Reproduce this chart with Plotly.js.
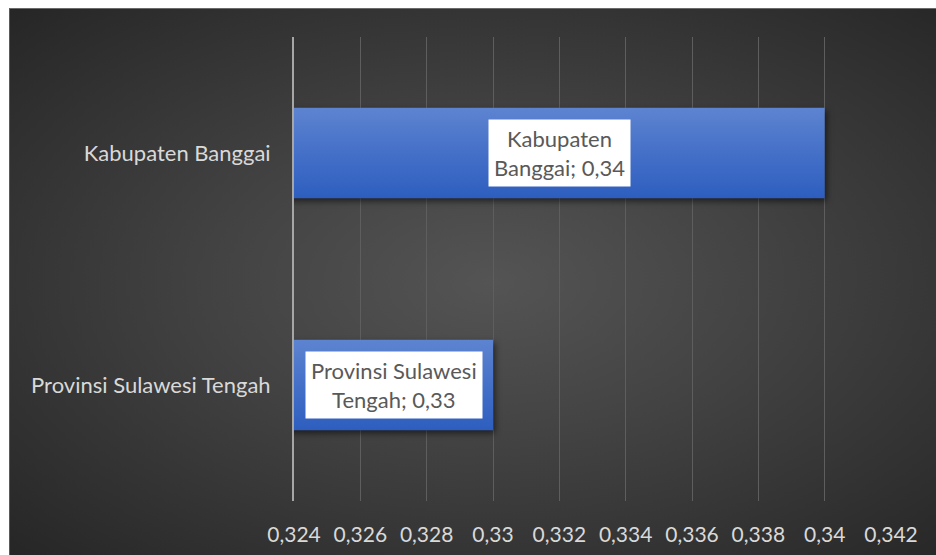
<!DOCTYPE html>
<html>
<head>
<meta charset="utf-8">
<script src="https://cdn.plot.ly/plotly-3.0.1.min.js"></script>
<style>
  html, body { margin: 0; padding: 0; background: #ffffff; }
  #wrap { position: relative; width: 936px; height: 555px; overflow: hidden; background: #ffffff; }
  #bg { position: absolute; left: 9px; top: 8px; right: 0; bottom: 0;
        background: radial-gradient(ellipse farthest-corner at 52% 50%, #545454 0%, #434343 40%, #262626 100%);
        border-top: 1px solid #6a6a6a; border-left: 1px solid #5a5a5a; }
  #chart { position: absolute; left: 0; top: 0; width: 936px; height: 555px; }
</style>
</head>
<body>
<div id="wrap">
  <div id="bg"></div>
  <div id="chart"></div>
</div>
<script>
// Data
const categories = ['Kabupaten Banggai', 'Provinsi Sulawesi Tengah'];
const values = [0.34, 0.33];
const labelLines = [['Kabupaten', 'Banggai'], ['Provinsi Sulawesi', 'Tengah']];
const axisMin = 0.324;
const axisMax = 0.342;
const tickStep = 0.002;

const fmt = v => v.toFixed(2).replace('.', ',');

const trace = {
  type: 'bar',
  orientation: 'h',
  y: categories,
  x: values,
  marker: { color: '#4472c4', line: { width: 0 } },
  hoverinfo: 'none'
};

const annotations = categories.map((c, i) => ({
  x: (axisMin + values[i]) / 2,
  y: c,
  xref: 'x', yref: 'y',
  text: labelLines[i][0] + '<br>' + labelLines[i][1] + '; ' + fmt(values[i]),
  showarrow: false,
  bgcolor: '#ffffff',
  borderpad: 5,
  font: { family: 'Lato, sans-serif', size: 22, color: '#595959' },
  align: 'center'
}));

const layout = {
  width: 936, height: 555,
  margin: { l: 294, r: 45, t: 37, b: 54, pad: 0 },
  paper_bgcolor: 'rgba(0,0,0,0)',
  plot_bgcolor: 'rgba(0,0,0,0)',
  separators: ',.',
  showlegend: false,
  bargap: 0.61,
  font: { family: 'Lato, sans-serif', size: 22, color: '#d9d9d9' },
  xaxis: {
    range: [axisMin, axisMax],
    tick0: axisMin, dtick: tickStep,
    showgrid: true, gridcolor: '#5e5e5e', gridwidth: 1,
    zeroline: false, showline: false,
    ticks: 'outside', ticklen: 15, tickcolor: 'rgba(0,0,0,0)',
    tickfont: { family: 'Lato, sans-serif', size: 21, color: '#d9d9d9' },
    fixedrange: true
  },
  yaxis: {
    type: 'category',
    autorange: 'reversed',
    showgrid: false, zeroline: false,
    showline: true, linecolor: '#a6a6a6', linewidth: 2,
    ticks: 'outside', ticklen: 17, tickcolor: 'rgba(0,0,0,0)',
    tickfont: { family: 'Lato, sans-serif', size: 22, color: '#d9d9d9' },
    fixedrange: true
  },
  annotations: annotations
};

Plotly.newPlot('chart', [trace], layout, { displayModeBar: false, staticPlot: true }).then(gd => {
  const svg = gd.querySelector('svg.main-svg');
  const ns = 'http://www.w3.org/2000/svg';
  let defs = svg.querySelector('defs');
  if (!defs) { defs = document.createElementNS(ns, 'defs'); svg.insertBefore(defs, svg.firstChild); }
  const grad = document.createElementNS(ns, 'linearGradient');
  grad.setAttribute('id', 'barGrad');
  grad.setAttribute('x1', '0'); grad.setAttribute('y1', '0');
  grad.setAttribute('x2', '0'); grad.setAttribute('y2', '1');
  [['0', '#5d84d0'], ['0.5', '#4570c8'], ['1', '#2d5ebf']].forEach(([o, c]) => {
    const s = document.createElementNS(ns, 'stop');
    s.setAttribute('offset', o); s.setAttribute('stop-color', c);
    grad.appendChild(s);
  });
  defs.appendChild(grad);
  gd.querySelectorAll('.trace.bars .point path').forEach(p => {
    p.style.fill = 'url(#barGrad)';
    p.style.filter = 'drop-shadow(2px 3px 3px rgba(0,0,0,0.55))';
  });
});
</script>
</body>
</html>
